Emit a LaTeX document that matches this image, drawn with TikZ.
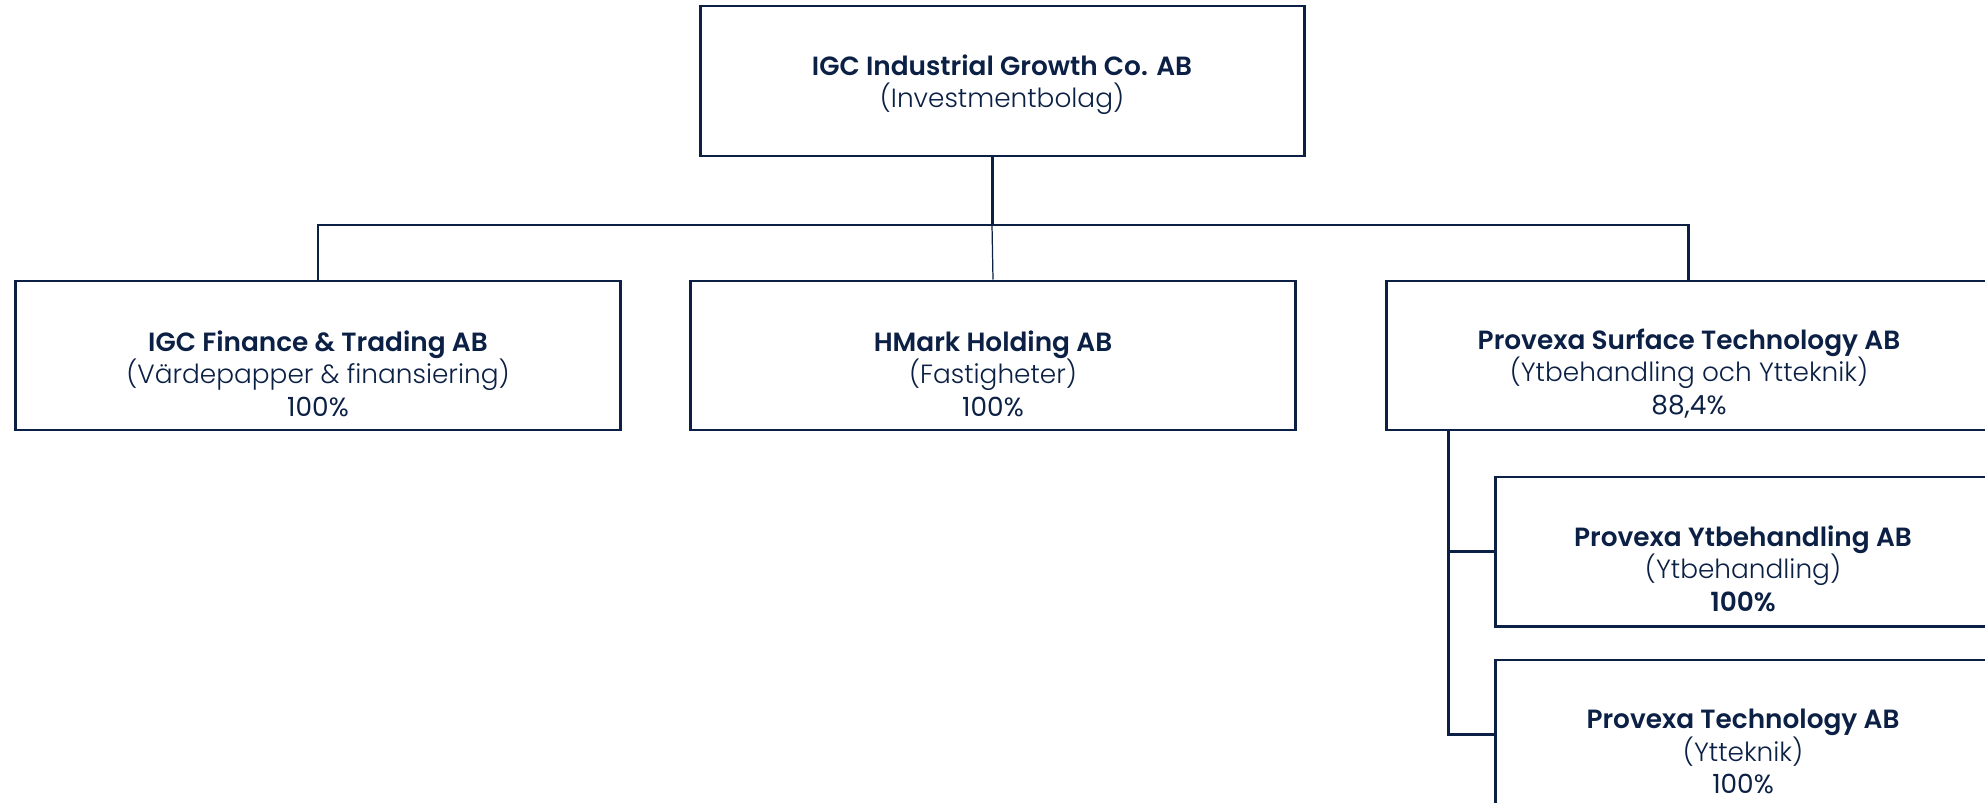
\documentclass[tikz,border=0pt]{standalone}
\usepackage{fontspec}
\setmainfont{Poppins}[BoldFont=* SemiBold]
\newfontfamily\lightfont{Poppins}[UprightFont=* Light]
\usepackage{tikz}
\usetikzlibrary{positioning}
\definecolor{navy}{RGB}{11,32,68}
\tikzset{box/.style = {draw = navy, line width = 0.85pt, rectangle, minimum width = 60.5mm, minimum height = 14.9mm, inner sep = 0}}
\tikzset{txt/.style = {align = center, text = navy, font = \fontsize{7.5}{9.2}\selectfont, inner sep = 0}}
\tikzset{link/.style = {draw = navy, line width = 0.85pt}}

\begin{document}
\begin{tikzpicture}[x = 0.1mm, y = -0.1mm]
      \useasboundingbox (0, 0) rectangle (1985, 802);
      \clip (0, 0) rectangle (1985, 802);

      \node[box, minimum width = 60.4mm, minimum height = 15mm] (igc) at (1002, 81) {};
      \node[txt] (igc-t) at ([yshift = -0.4mm] igc.center) {\textbf{IGC Industrial Growth Co. AB}\\{\lightfont (Investmentbolag)}};

      \node[box] (fin) at (318, 355.5) {};
      \node[box, right = 6.7mm of fin] (hmark) {};
      \node[box, right = 8.8mm of hmark] (surf) {};
      \node[txt] (fin-t) at ([yshift = -1.8mm] fin.center) {\textbf{IGC Finance \& Trading AB}\\{\lightfont (Värdepapper \& finansiering)}\\100\%};
      \node[txt] (hmark-t) at ([yshift = -1.8mm] hmark.center) {\textbf{HMark Holding AB}\\{\lightfont (Fastigheter)}\\100\%};
      \node[txt] (surf-t) at ([yshift = -1.8mm] surf.center) {\textbf{Provexa Surface Technology AB}\\{\lightfont (Ytbehandling och Ytteknik)}\\88,4\%};

      \node[box, minimum width = 49.6mm] (ytb) at (1743, 551.5) {};
      \node[box, minimum width = 49.6mm, below = 3.1mm of ytb] (tech) {};
      \node[txt] (ytb-t) at ([yshift = -1.7mm] ytb.center) {\textbf{Provexa Ytbehandling AB}\\{\lightfont (Ytbehandling)}\\\textbf{100\%}};
      \node[txt] (tech-t) at ([yshift = -1.7mm] tech.center) {\textbf{Provexa Technology AB}\\{\lightfont (Ytteknik)}\\100\%};

      \coordinate (bus) at (992, 225);
      \coordinate (trunk) at (1448, 430);

      \draw[link] (igc.south -| bus) -- (bus);
      \draw[link] (fin.north) |- (bus) -| (surf.north);
      \draw[navy, line width = 0.35pt] (bus) -- (hmark.north);

      \draw[link] (trunk) |- (tech.west);
      \draw[link] (trunk |- ytb.west) -- (ytb.west);
    \end{tikzpicture}
\end{document}
